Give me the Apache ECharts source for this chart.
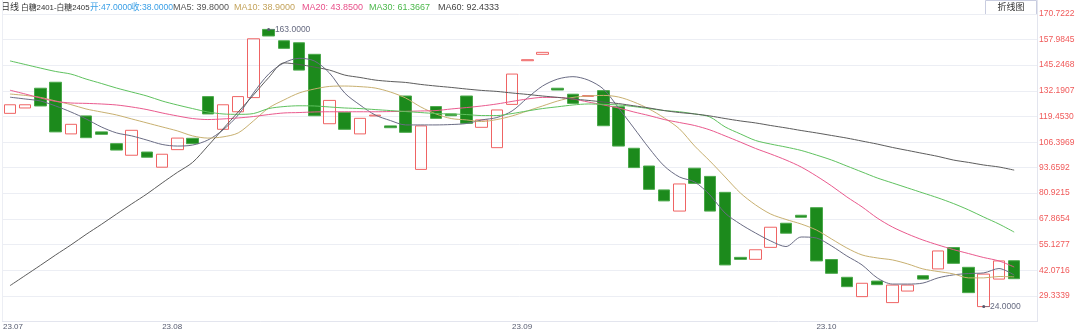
<!DOCTYPE html>
<html><head><meta charset="utf-8">
<script src="https://cdn.jsdelivr.net/npm/echarts@6/dist/echarts.min.js"></script>
<style>html,body{margin:0;padding:0;background:#fff}#c{width:1080px;height:332px}</style>
</head><body><div id="c"></div>
<script>
const periodLabel = '日线';
const contractLabel = '白糖2401-白糖2405';
const buttonLabel = '折线图';
const slotCount = 68;
const monthTicks = {0: '23.07', 10: '23.08', 33: '23.09', 53: '23.10'};
const yTicks = ['170.7222','157.9845','145.2468','132.1907','119.4530','106.3969','93.6592','80.9215','67.8654','55.1277','42.0716','29.3339'];

const openVals = [120.9,123.6,133.5,136.5,110.6,119.6,111.6,105.7,99.9,101.5,
  93.9,102.7,108.4,129.3,112.9,121.7,128.8,163.0,157.3,156.3,
  150.5,115.7,121.4,110.6,119.6,114.6,129.6,92.8,124.3,120.6,
  129.6,113.9,103.7,125.4,147.3,150.5,133.5,130.5,129.4,132.3,
  124.2,103.4,94.5,82.5,71.9,93.4,89.3,81.3,48.7,47.7,
  53.7,65.8,69.8,73.6,47.6,38.7,29.0,36.8,26.0,31.8,
  39.5,42.9,53.6,43.7,24.0,37.8,47.0];
const closeVals = [125.2,125.2,124.6,111.6,115.4,108.7,110.4,102.5,112.4,98.9,
  100.4,108.5,105.7,120.6,125.2,129.3,158.3,159.7,153.5,142.6,
  119.7,127.4,112.9,118.4,120.0,113.7,111.4,114.6,118.4,119.7,
  115.9,117.6,122.6,140.6,147.8,151.5,132.6,125.9,129.8,114.7,
  104.5,93.7,82.8,77.0,85.5,85.8,71.9,44.9,47.7,52.5,
  63.8,60.8,68.8,46.9,40.7,34.0,35.7,35.0,34.8,34.8,
  37.8,51.9,45.7,31.0,40.3,46.9,38.0];

const ma5 = [129.0,128.1,127.1,124.6,121.6,118.1,114.1,111.1,109.6,107.5,
  105.3,104.5,105.0,107.5,112.6,120.1,131.1,140.6,146.2,148.5,
  147.2,141.1,131.1,125.1,120.1,117.3,115.1,115.1,115.1,115.3,
  115.8,117.6,118.8,122.1,128.6,134.6,138.1,139.3,137.6,133.1,
  123.6,113.6,103.5,94.5,89.0,86.5,80.0,70.9,65.4,60.9,
  56.9,54.1,58.9,58.4,54.4,49.4,44.9,38.4,35.3,35.3,
  35.8,38.4,39.9,40.6,40.9,43.1,39.8];
const ma10 = [130.6,129.9,128.9,127.1,125.3,123.1,121.6,120.1,118.1,116.1,
  114.1,112.1,109.6,108.5,109.1,111.1,117.1,123.6,127.6,131.1,
  133.1,134.4,134.6,134.3,133.6,131.6,128.6,124.1,120.6,118.3,
  117.6,116.8,117.8,119.6,122.1,124.6,127.1,128.9,129.6,129.9,
  129.1,126.6,123.1,118.6,113.1,104.5,97.0,89.0,81.0,75.0,
  70.4,67.7,65.4,62.4,57.9,53.4,49.9,48.4,47.4,45.4,
  42.9,41.6,40.4,38.4,38.4,39.1,38.9];
const ma20 = [132.5,130.6,128.6,126.9,126.1,125.9,125.6,125.1,124.1,122.8,
  121.1,119.6,118.3,117.8,118.1,118.6,119.3,120.3,121.1,121.3,
  121.6,121.7,121.7,121.7,121.7,121.8,121.9,122.1,122.3,123.1,
  123.8,124.6,125.6,126.9,128.1,128.9,128.9,128.1,126.6,125.1,
  123.6,121.6,119.8,117.8,116.3,114.8,112.6,109.6,106.5,103.3,
  100.5,97.5,94.0,89.5,84.5,79.0,74.0,68.4,63.9,60.4,
  57.4,54.9,52.6,50.6,48.6,46.9,43.85];
const ma30 = [147.2,145.4,143.6,141.9,140.6,138.1,135.9,133.6,131.6,129.6,
  127.1,125.1,123.3,121.6,120.6,120.4,120.8,123.3,124.3,124.7,
  124.6,124.1,123.6,123.3,122.8,122.3,121.8,121.3,120.8,120.6,
  120.3,119.8,119.8,120.8,122.1,123.3,124.2,125.1,125.6,125.4,
  125.1,124.3,123.3,122.3,121.7,120.6,119.1,114.1,110.6,107.3,
  105.5,104.0,102.3,100.0,97.5,94.5,91.5,88.5,86.0,83.5,
  81.0,78.5,75.7,72.5,68.9,65.4,61.3667];
const ma60 = [34.5,39.6,44.7,49.9,54.9,60.2,65.2,70.4,75.5,80.5,
  86.0,91.3,96.3,104.5,113.1,121.6,130.1,138.8,146.2,145.4,
  144.1,142.6,140.1,138.9,137.6,136.9,136.4,135.4,134.6,133.9,
  133.1,132.4,131.9,131.1,130.4,129.6,128.9,128.1,127.4,126.6,
  125.8,124.7,123.6,122.3,121.3,120.6,119.6,118.3,117.1,116.1,
  114.8,113.6,112.3,111.1,109.8,108.5,107.0,105.5,103.8,102.3,
  100.8,99.3,97.5,96.3,95.0,94.0,92.4333];

const categories = Array.from({length: slotCount}, (_, i) => 'd' + (i + 1));
const candleData = openVals.map((o, i) => {
  const c = closeVals[i];
  return [o, c, Math.min(o, c), Math.max(o, c)];
});

const last = openVals.length - 1;
const FONT = '"Liberation Sans", "Noto Sans CJK SC", sans-serif';
const maColors = {ma5: '#6a6c84', ma10: '#c8b070', ma20: '#ea5a8e', ma30: '#5fc25f', ma60: '#5c5c5c'};
const legendItems = [
  {x: 1, text: periodLabel, fill: '#333', size: 9},
  {x: 21, text: contractLabel, fill: '#333', size: 7.8},
  {x: 90, text: '开:' + openVals[last].toFixed(4), fill: '#3a9fe6', size: 8.6},
  {x: 131, text: '收:' + closeVals[last].toFixed(4), fill: '#3a9fe6', size: 8.6},
  {x: 173, text: 'MA5: ' + ma5[last].toFixed(4), fill: '#555', size: 9},
  {x: 234, text: 'MA10: ' + ma10[last].toFixed(4), fill: '#c4a45c', size: 9},
  {x: 302, text: 'MA20: ' + ma20[last].toFixed(4), fill: '#e8508a', size: 9},
  {x: 369, text: 'MA30: ' + ma30[last].toFixed(4), fill: '#4cb84c', size: 9},
  {x: 438, text: 'MA60: ' + ma60[last].toFixed(4), fill: '#444', size: 9}
];

const chart = echarts.init(document.getElementById('c'), null, {renderer: 'canvas'});
function maSeries(name, data, color) {
  return {name, type: 'line', data, showSymbol: false, smooth: 0.3, z: 3,
    lineStyle: {width: 1, color}, itemStyle: {color}, silent: true};
}
chart.setOption({
  animation: false,
  backgroundColor: '#fff',
  grid: {left: 1, right: 43, top: 0, bottom: 10.4},
  xAxis: {
    type: 'category', data: categories, boundaryGap: true,
    axisLine: {show: true, lineStyle: {color: '#e3e5ee'}},
    axisTick: {show: false}, splitLine: {show: false},
    axisLabel: {
      interval: 0, margin: 1, fontSize: 8, color: '#555a6e', fontFamily: FONT,
      formatter: (v, i) => monthTicks[i] ? (i === 0 ? '{f|' + monthTicks[i] + '}' : '{n|' + monthTicks[i] + '}') : '',
      rich: {
        f: {fontSize: 8, color: '#555a6e', fontFamily: FONT, padding: [0, 0, 0, 6]},
        n: {fontSize: 8, color: '#555a6e', fontFamily: FONT, padding: [0, 0, 0, 20]}
      }
    }
  },
  yAxis: [
    {type: 'value', position: 'right', min: 16.48, max: 177.74,
      axisLine: {show: true, lineStyle: {color: '#e3e5ee'}}, axisTick: {show: false},
      axisLabel: {show: false}, splitLine: {show: false}},
    {type: 'value', position: 'left', min: 16.48, max: 177.74,
      axisLine: {show: true, lineStyle: {color: '#eceef4'}}, axisTick: {show: false},
      axisLabel: {show: false}, splitLine: {show: false}}
  ],
  series: [
    {
      name: 'K', type: 'candlestick', data: candleData, barWidth: 12, z: 2,
      itemStyle: {color: 'rgba(255,255,255,0)', color0: '#1c8a1c', borderColor: '#ef6464', borderColor0: '#4aa84a', borderWidth: 1},
      markLine: {
        silent: true, z: 0, symbol: ['none', 'none'], animation: false,
        lineStyle: {color: '#eceef4', type: 'solid', width: 1},
        label: {position: 'end', distance: 2, color: '#f05a5a', fontSize: 8.5, fontFamily: FONT, formatter: p => p.name},
        data: yTicks.map(t => ({name: t, yAxis: parseFloat(t)}))
      },
      markPoint: {
        symbol: 'circle', symbolSize: 3, silent: true,
        itemStyle: {color: '#555a6e'},
        label: {show: true, position: 'right', distance: 0, color: '#666a80', fontSize: 8.5, fontFamily: FONT,
          formatter: p => '–' + Number(p.value).toFixed(4)},
        data: [{type: 'max', valueDim: 'highest'}, {type: 'min', valueDim: 'lowest'}]
      }
    },
    maSeries('MA5', ma5, maColors.ma5),
    maSeries('MA10', ma10, maColors.ma10),
    maSeries('MA20', ma20, maColors.ma20),
    maSeries('MA30', ma30, maColors.ma30),
    maSeries('MA60', ma60, maColors.ma60)
  ],
  graphic: legendItems.map(it => ({
    type: 'text', x: it.x, y: 7.5, silent: true,
    style: {text: it.text, fill: it.fill, font: it.size + 'px ' + FONT, verticalAlign: 'middle', align: 'left'}
  })).concat([{
    type: 'group', x: 985.5, y: 0.5, children: [
      {type: 'rect', shape: {x: 0, y: 0, width: 51, height: 14}, style: {fill: '#fff', stroke: '#c9cde0', lineWidth: 1}},
      {type: 'text', x: 25.5, y: 7.5, style: {text: buttonLabel, fill: '#333', font: '9px ' + FONT, align: 'center', verticalAlign: 'middle'}}
    ]
  }])
});
</script>
</body></html>
